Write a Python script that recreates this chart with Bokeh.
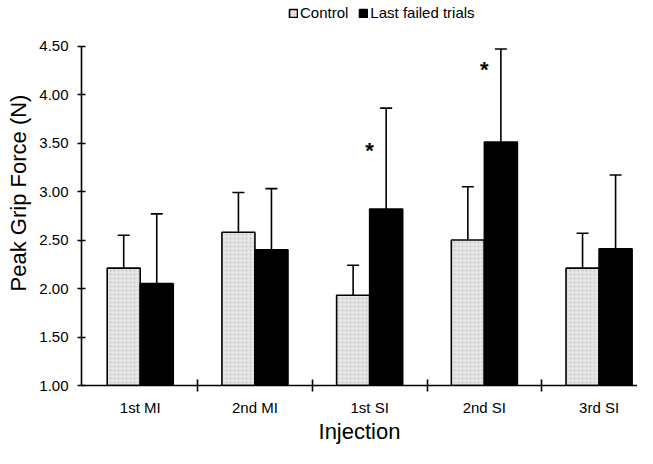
from bokeh.plotting import figure
from bokeh.models import (Range1d, FixedTicker, Legend, LegendItem, Whisker, TeeHead,
                          ColumnDataSource, NumeralTickFormatter)
from bokeh.core.properties import value
from bokeh.embed import file_html
from bokeh.resources import INLINE

categories = ["1st MI", "2nd MI", "1st SI", "2nd SI", "3rd SI"]
control = [2.21, 2.58, 1.93, 2.50, 2.21]
control_err = [0.34, 0.41, 0.31, 0.55, 0.36]
failed = [2.05, 2.40, 2.82, 3.51, 2.41]
failed_err = [0.72, 0.63, 1.04, 0.96, 0.76]
sig_y = [None, None, 3.42, 4.26, None]
y_ticks = [1.0, 1.5, 2.0, 2.5, 3.0, 3.5, 4.0, 4.5]

FONT = "Liberation Sans"
centers = [i + 0.5 for i in range(len(categories))]
off = 0.144
bw = 0.288

LEFT = 81
BOTTOM = 63
FH = 448 - BOTTOM
p = figure(width=637, height=448, output_backend="svg", toolbar_location=None,
           x_range=Range1d(-0.012, 4.835), y_range=Range1d(1.0, 4.97),
           min_border_left=LEFT, min_border_right=0, min_border_top=0, min_border_bottom=BOTTOM)
p.outline_line_color = None
p.xgrid.visible = False
p.ygrid.visible = False

src_c = ColumnDataSource(dict(x=[c - off for c in centers], top=control,
                              up=[v + e for v, e in zip(control, control_err)]))
src_f = ColumnDataSource(dict(x=[c + off for c in centers], top=failed,
                              up=[v + e for v, e in zip(failed, failed_err)]))

for src in (src_c, src_f):
    w = Whisker(source=src, base="x", lower="top", upper="up", dimension="height",
                line_color="black", line_width=1.6,
                upper_head=TeeHead(size=12, line_width=1.6, line_color="black"),
                lower_head=None)
    p.add_layout(w)

rc = p.vbar(x="x", top="top", bottom=1.0, width=bw, source=src_c,
            fill_color="#e6e6e6", line_color="black", line_width=1.6,
            hatch_pattern="dot", hatch_color="#b0b0b0", hatch_scale=4, hatch_alpha=0.6)
rf = p.vbar(x="x", top="top", bottom=1.0, width=bw, source=src_f,
            fill_color="black", line_color="black", line_width=1.6)

sx = [c for c, s in zip(centers, sig_y) if s is not None]
sy = [s for s in sig_y if s is not None]
p.text(x=sx, y=sy, text=["*"] * len(sx), text_align="center", text_baseline="middle",
       text_font=value(FONT), text_font_size="22px", text_font_style="bold", text_color="black")

# axes
p.yaxis.ticker = FixedTicker(ticks=y_ticks)
p.yaxis.formatter = NumeralTickFormatter(format="0.00")
p.yaxis.bounds = (y_ticks[0], y_ticks[-1])
p.yaxis.axis_label = "Peak Grip Force (N)"
p.xaxis.ticker = FixedTicker(ticks=centers, minor_ticks=[1, 2, 3, 4])
p.xaxis.major_label_overrides = {c: n for c, n in zip(centers, categories)}
p.xaxis.axis_label = "Injection"

for ax in (p.xaxis, p.yaxis):
    ax.axis_line_color = "black"
    ax.axis_line_width = 1.6
    ax.major_label_text_font = FONT
    ax.major_label_text_font_size = "15px"
    ax.major_label_text_color = "black"
    ax.axis_label_text_font = FONT
    ax.axis_label_text_font_size = "22px"
    ax.axis_label_text_font_style = "normal"
    ax.axis_label_text_color = "black"
    ax.major_tick_line_color = "black"
    ax.major_tick_line_width = 1.6
    ax.minor_tick_line_color = "black"
    ax.minor_tick_line_width = 1.6

p.yaxis.major_tick_in = 4
p.yaxis.major_tick_out = 4
p.yaxis.minor_tick_line_color = None
p.yaxis.major_label_standoff = 9
p.yaxis.axis_label_standoff = 5

p.xaxis.major_tick_in = 0
p.xaxis.major_tick_out = 0
p.xaxis.minor_tick_in = 6
p.xaxis.minor_tick_out = 6
p.xaxis.major_label_standoff = 7
p.xaxis.axis_label_standoff = 0

legend = Legend(items=[LegendItem(label="Control", renderers=[rc]),
                       LegendItem(label="Last failed trials", renderers=[rf])],
                orientation="horizontal", location=(207, FH - 21),
                padding=0, margin=0, spacing=10, label_standoff=2,
                glyph_width=10, glyph_height=10, label_height=12,
                border_line_color=None, background_fill_alpha=0,
                label_text_font=FONT, label_text_font_size="15px", label_text_color="black")
p.add_layout(legend, "center")

open("out.html", "w").write(file_html(p, INLINE))
